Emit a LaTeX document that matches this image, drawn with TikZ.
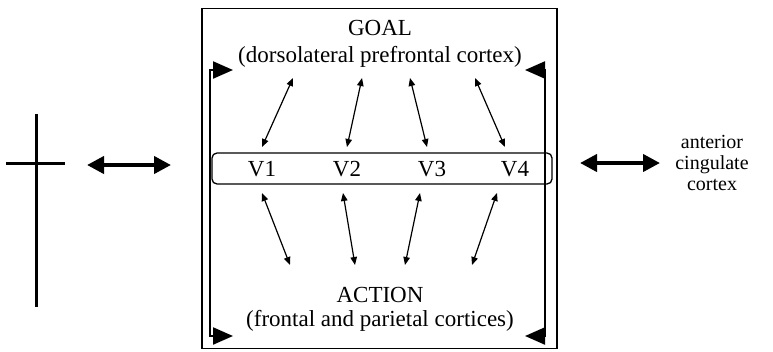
\documentclass[tikz,border=0pt]{standalone}
\usepackage{fontspec}
\setmainfont{Liberation Serif}
\usetikzlibrary{arrows.meta, positioning}
\tikzset{
  lbl/.style={font=\fontsize{23}{25}\selectfont, inner sep=1pt},
  side/.style={font=\fontsize{20}{21}\selectfont, align=center, inner sep=1pt},
  frame/.style={draw, line width=1.4pt, minimum width=355pt, minimum height=340pt, inner sep=0pt},
  vrow/.style={draw, rounded corners=5pt, line width=1.3pt, minimum width=340pt, minimum height=31pt, inner sep=0pt},
  flag/.style={<->, >={Triangle[length=20pt, width=17pt]}, line width=2.2pt},
  link/.style={<->, >={Triangle[length=8pt, width=6.5pt]}, line width=1.2pt},
  bigarr/.style={<->, >={Triangle[length=17pt, width=17pt]}, line width=4pt},
  fix/.style={line width=3pt},
}
\begin{document}
\begin{tikzpicture}[x=1pt, y=-1pt]
  \useasboundingbox (0,0) rectangle (773,351);
  % fixation cross
  \draw[fix] (36,114) -- (36,307);
  \draw[fix] (6,163) -- (65,163);
  % working memory frame
  \node[frame] (box) at (379.5,178.5) {};
  \node[lbl] (goal) at (380,28) {GOAL};
  \node[lbl, below=8pt of goal] (dlpfc) {(dorsolateral prefrontal cortex)};
  \node[lbl] (action) at (380,295) {ACTION};
  \node[lbl, below=5pt of action] (fpc) {(frontal and parietal cortices)};
  \node[vrow] (vrow) at (382,168.5) {};
  \node[lbl] (v1) at (262,169) {V1};
  \node[lbl] (v2) at (347,169) {V2};
  \node[lbl] (v3) at (432,169) {V3};
  \node[lbl] (v4) at (515,169) {V4};
  % inner flags
  \coordinate (lt) at (233,70);
  \coordinate (lb) at (233,336);
  \coordinate (rt) at (525,70);
  \coordinate (rb) at (525,336);
  \draw[flag] (lt) -- ++(-23,0) |- (lb);
  \draw[flag] (rt) -- ++(20,0) |- (rb);
  % goal links
  \coordinate (g1) at (293,78);  \coordinate (u1) at (262,147);
  \coordinate (g2) at (362,78);  \coordinate (u2) at (347,147);
  \coordinate (g3) at (410,78);  \coordinate (u3) at (427,147);
  \coordinate (g4) at (475,78);  \coordinate (u4) at (505,147);
  \draw[link] (g1) -- (u1);
  \draw[link] (g2) -- (u2);
  \draw[link] (g3) -- (u3);
  \draw[link] (g4) -- (u4);
  % action links
  \coordinate (d1) at (262,193); \coordinate (a1) at (290,265);
  \coordinate (d2) at (343,193); \coordinate (a2) at (355,265);
  \coordinate (d3) at (420,193); \coordinate (a3) at (405,265);
  \coordinate (d4) at (497,193); \coordinate (a4) at (472,265);
  \draw[link] (d1) -- (a1);
  \draw[link] (d2) -- (a2);
  \draw[link] (d3) -- (a3);
  \draw[link] (d4) -- (a4);
  % side arrows
  \node[side] (acc) at (712,163) {anterior\\cingulate\\cortex};
  \coordinate (la) at (87,165);
  \coordinate (lz) at (171,165);
  \coordinate (ra) at (580,163);
  \coordinate (rz) at (660,163);
  \draw[bigarr] (la) -- (lz);
  \draw[bigarr] (ra) -- (rz);
\end{tikzpicture}
\end{document}
